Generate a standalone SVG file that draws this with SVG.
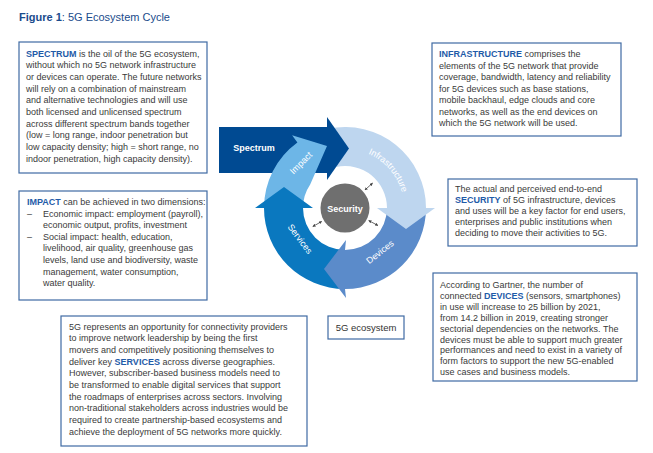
<svg xmlns="http://www.w3.org/2000/svg" width="653" height="453" viewBox="0 0 653 453">
<style>
.t{font-family:"Liberation Sans",Arial,sans-serif;font-size:9px;fill:#3a3a3a}
.kw{fill:#1f5ba8;font-weight:bold}
.box{fill:#fff;stroke:#3f6aa3;stroke-width:1.2}
.lbl{font-family:"Liberation Sans",Arial,sans-serif;font-size:9px;fill:#fff;text-anchor:middle}
.b{font-weight:bold}
.dbl{stroke:#444;stroke-width:0.8;fill:none;marker-start:url(#ah);marker-end:url(#ah)}
</style>
<defs>
<marker id="ah" viewBox="0 0 6 6" refX="5" refY="3" markerWidth="4" markerHeight="4" orient="auto-start-reverse" markerUnits="strokeWidth">
<path d="M0,0 L6,3 L0,6 Z" fill="#444"/>
</marker>
<path id="infraArc" d="M 354.23 149.73 A 59 59 0 0 1 403.99 206.97"/>
</defs>
<rect width="653" height="453" fill="#fff"/>
<text x="19" y="21" font-family="'Liberation Sans',Arial,sans-serif" font-size="11" fill="#1a4b8c"><tspan font-weight="bold">Figure 1</tspan>: 5G Ecosystem Cycle</text>

<g id="spectrum-box">
<rect class="box" x="19" y="42" width="188" height="131"/>
<text class="t" x="26" y="56.5"><tspan class="kw">SPECTRUM</tspan> is the oil of the 5G ecosystem,</text>
<text class="t" x="26" y="68.2">without which no 5G network infrastructure</text>
<text class="t" x="26" y="79.9">or devices can operate. The future networks</text>
<text class="t" x="26" y="91.6">will rely on a combination of mainstream</text>
<text class="t" x="26" y="103.3">and alternative technologies and will use</text>
<text class="t" x="26" y="115">both licensed and unlicensed spectrum</text>
<text class="t" x="26" y="126.7">across different spectrum bands together</text>
<text class="t" x="26" y="138.4">(low = long range, indoor penetration but</text>
<text class="t" x="26" y="150.1">low capacity density; high = short range, no</text>
<text class="t" x="26" y="161.8">indoor penetration, high capacity density).</text>
</g>

<g id="infrastructure-box">
<rect class="box" x="432" y="43" width="189" height="93"/>
<text class="t" x="439" y="57"><tspan class="kw">INFRASTRUCTURE</tspan> comprises the</text>
<text class="t" x="439" y="68.5">elements of the 5G network that provide</text>
<text class="t" x="439" y="80">coverage, bandwidth, latency and reliability</text>
<text class="t" x="439" y="91.5">for 5G devices such as base stations,</text>
<text class="t" x="439" y="103">mobile backhaul, edge clouds and core</text>
<text class="t" x="439" y="114.5">networks, as well as the end devices on</text>
<text class="t" x="439" y="126">which the 5G network will be used.</text>
</g>

<g id="impact-box">
<rect class="box" x="19" y="191" width="188" height="109"/>
<text class="t" x="27" y="205"><tspan class="kw">IMPACT</tspan> can be achieved in two dimensions:</text>
<text class="t" x="27" y="216.6">–</text>
<text class="t" x="43" y="216.6">Economic impact: employment (payroll),</text>
<text class="t" x="43" y="228.2">economic output, profits, investment</text>
<text class="t" x="27" y="239.8">–</text>
<text class="t" x="43" y="239.8">Social impact: health, education,</text>
<text class="t" x="43" y="251.4">livelihood, air quality, greenhouse gas</text>
<text class="t" x="43" y="263">levels, land use and biodiversity, waste</text>
<text class="t" x="43" y="274.6">management, water consumption,</text>
<text class="t" x="43" y="286.2">water quality.</text>
</g>

<g id="security-box">
<rect class="box" x="448" y="179" width="189" height="67"/>
<text class="t" x="455" y="191.5">The actual and perceived end-to-end</text>
<text class="t" x="455" y="202.7"><tspan class="kw">SECURITY</tspan> of 5G infrastructure, devices</text>
<text class="t" x="455" y="213.9">and uses will be a key factor for end users,</text>
<text class="t" x="455" y="225.1">enterprises and public institutions when</text>
<text class="t" x="455" y="236.3">deciding to move their activities to 5G.</text>
</g>

<g id="devices-box">
<rect class="box" x="433" y="273" width="204" height="108"/>
<text class="t" x="440" y="288">According to Gartner, the number of</text>
<text class="t" x="440" y="298.9">connected <tspan class="kw">DEVICES</tspan> (sensors, smartphones)</text>
<text class="t" x="440" y="309.8">in use will increase to 25 billion by 2021,</text>
<text class="t" x="440" y="320.7">from 14.2 billion in 2019, creating stronger</text>
<text class="t" x="440" y="331.6">sectorial dependencies on the networks. The</text>
<text class="t" x="440" y="342.5">devices must be able to support much greater</text>
<text class="t" x="440" y="353.4">performances and need to exist in a variety of</text>
<text class="t" x="440" y="364.3">form factors to support the new 5G-enabled</text>
<text class="t" x="440" y="375.2">use cases and business models.</text>
</g>

<g id="services-box">
<rect class="box" x="61" y="316" width="246" height="130"/>
<text class="t" x="69" y="329.5">5G represents an opportunity for connectivity providers</text>
<text class="t" x="69" y="341.2">to improve network leadership by being the first</text>
<text class="t" x="69" y="352.8">movers and competitively positioning themselves to</text>
<text class="t" x="69" y="364.5">deliver key <tspan class="kw">SERVICES</tspan> across diverse geographies.</text>
<text class="t" x="69" y="376.2">However, subscriber-based business models need to</text>
<text class="t" x="69" y="387.9">be transformed to enable digital services that support</text>
<text class="t" x="69" y="399.5">the roadmaps of enterprises across sectors. Involving</text>
<text class="t" x="69" y="411.2">non-traditional stakeholders across industries would be</text>
<text class="t" x="69" y="422.9">required to create partnership-based ecosystems and</text>
<text class="t" x="69" y="434.5">achieve the deployment of 5G networks more quickly.</text>
</g>

<g id="ecosystem-box">
<rect class="box" x="328" y="316" width="76" height="23"/>
<text x="366" y="331" text-anchor="middle" font-family="'Liberation Sans',Arial,sans-serif" font-size="9.5" fill="#333">5G ecosystem</text>
</g>

<g id="spectrum">
<rect x="219" y="127" width="108.5" height="46" fill="#004a92"/>
<text class="lbl b" x="254" y="151">Spectrum</text>
</g>

<g id="impact">
<path d="M 264 208 A 81 81 0 0 1 297.39 142.47 L 292.1 135.19 L 327 146 L 310.18 184.51 A 42 42 0 0 0 303 208 Z" fill="#6db6e7"/>
<text class="lbl" transform="translate(301,163) rotate(-45)" x="0" y="3">Impact</text>
</g>

<g id="services">
<path d="M 345 289 A 81 81 0 0 1 264 208 L 255 208 L 284 187 L 313 208 L 303 208 A 42 42 0 0 0 345 250 Z" fill="#0a78bf"/>
<text class="lbl" transform="translate(300,239) rotate(53)" x="0" y="3">Services</text>
</g>

<g id="devices">
<path d="M 426 208 A 81 81 0 0 1 345 289 L 346 298 L 324 269 L 346 240 L 345 250 A 42 42 0 0 0 387 208 Z" fill="#5b8bca"/>
<text class="lbl" transform="translate(380,252) rotate(-38.5)" x="0" y="3">Devices</text>
</g>

<g id="infrastructure">
<path d="M 328.16 128.77 A 81 81 0 0 1 426 208 L 435 208 L 406 229 L 377 208 L 387 208 A 42 42 0 0 0 336.27 166.92 Z" fill="#bed6ef"/>
<text class="lbl"><textPath href="#infraArc" startOffset="50%">Infrastructure</textPath></text>
</g>

<g id="spectrum-head">
<path d="M 327 117 L 349 148.5 L 327 180 Z" fill="#004a92"/>
</g>

<g id="security">
<circle cx="345" cy="208" r="24.5" fill="#6f6f6f"/>
<text class="lbl b" x="345" y="211.5">Security</text>
</g>

<g id="connectors">
<line class="dbl" x1="365" y1="189.9" x2="372.5" y2="183.2"/>
<line class="dbl" x1="368.8" y1="220.6" x2="377.8" y2="225.4"/>
<line class="dbl" x1="321.6" y1="221.5" x2="312.9" y2="226.5"/>
</g>
</svg>
